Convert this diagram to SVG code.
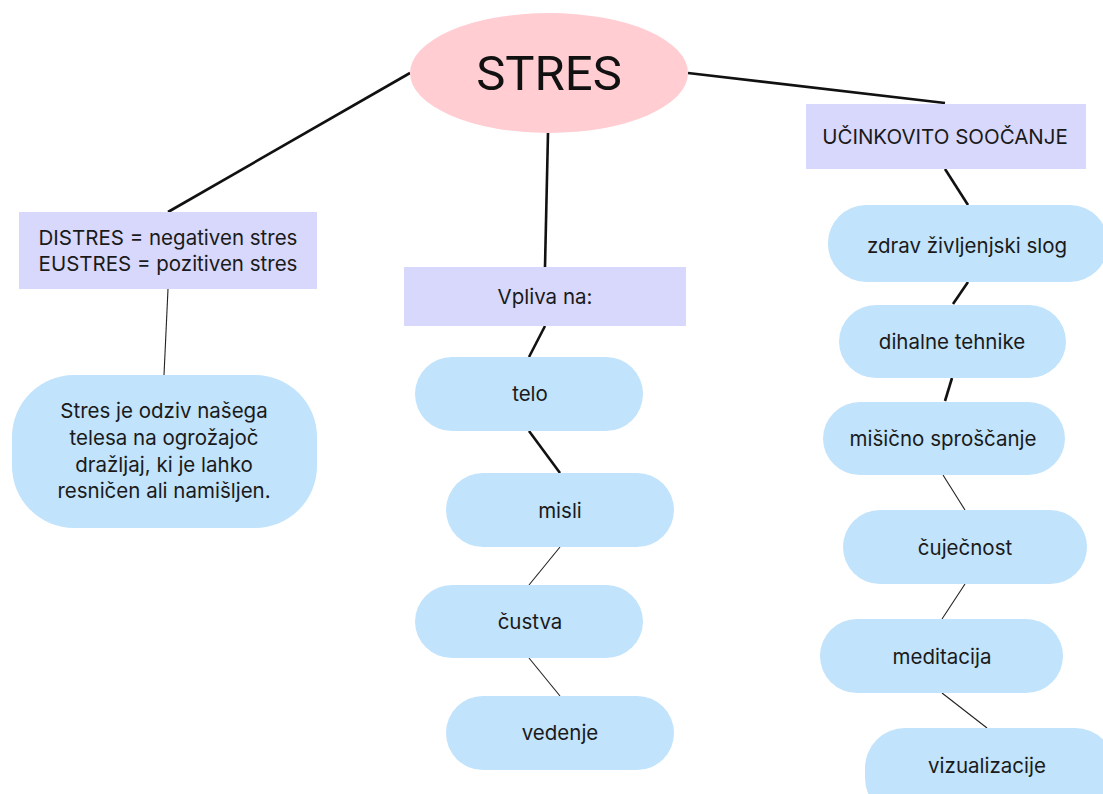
<svg xmlns="http://www.w3.org/2000/svg" width="1103" height="794" viewBox="0 0 1103 794">
<style>
.bg{fill:#ffffff}
.rect{fill:#d8d8fc}
.pill{fill:#c1e3fc}
.t{font-family:Inter,"Noto Sans","Liberation Sans",sans-serif;font-size:20.5px;fill:#1a1a1a;text-anchor:middle}
.thick{stroke:#111;stroke-width:2.6;fill:none}
.thin{stroke:#222;stroke-width:1.1;fill:none}
</style>
<rect class="bg" width="1103" height="794"/>
<g id="connectors">
<line class="thick" x1="410" y1="73" x2="168" y2="212"/>
<line class="thin" x1="168" y1="289" x2="164" y2="375"/>
<line class="thick" x1="548" y1="133" x2="545" y2="267"/>
<line class="thick" x1="545" y1="326" x2="529" y2="357"/>
<line class="thick" x1="529" y1="431" x2="560" y2="473"/>
<line class="thin" x1="560" y1="547" x2="529" y2="585"/>
<line class="thin" x1="529" y1="658" x2="560" y2="696"/>
<line class="thick" x1="688" y1="73" x2="945" y2="103"/>
<line class="thick" x1="945" y1="169" x2="968" y2="205"/>
<line class="thick" x1="968" y1="282" x2="953" y2="304"/>
<line class="thick" x1="952" y1="378" x2="945" y2="401"/>
<line class="thin" x1="943" y1="475" x2="965" y2="510"/>
<line class="thin" x1="965" y1="584" x2="942" y2="619"/>
<line class="thin" x1="942" y1="693" x2="987" y2="728"/>
</g>
<g id="stres">
<ellipse cx="549" cy="73" rx="139" ry="60" fill="#ffcdd2"/>
<text x="549" y="90" font-family="Roboto,'Liberation Sans',sans-serif" font-size="49" fill="#111" text-anchor="middle">STRES</text>
</g>
<g id="distres">
<rect class="rect" x="19" y="212" width="298" height="77"/>
<text class="t" x="168" y="245">DISTRES = negativen stres</text>
<text class="t" x="168" y="271">EUSTRES = pozitiven stres</text>
</g>
<g id="definicija">
<rect class="pill" x="12" y="375" width="305" height="153" rx="62" ry="62"/>
<text class="t" x="164" y="418">Stres je odziv našega</text>
<text class="t" x="164" y="445">telesa na ogrožajoč</text>
<text class="t" x="164" y="472">dražljaj, ki je lahko</text>
<text class="t" x="164" y="498">resničen ali namišljen.</text>
</g>
<g id="vpliva">
<rect class="rect" x="404" y="267" width="282" height="59"/>
<text class="t" x="545" y="304">Vpliva na:</text>
</g>
<g id="telo">
<rect class="pill" x="415" y="357" width="228" height="74" rx="37" ry="37"/>
<text class="t" x="530" y="401">telo</text>
</g>
<g id="misli">
<rect class="pill" x="446" y="473" width="228" height="74" rx="37" ry="37"/>
<text class="t" x="560" y="518">misli</text>
</g>
<g id="custva">
<rect class="pill" x="415" y="585" width="228" height="73" rx="37" ry="37"/>
<text class="t" x="530" y="629">čustva</text>
</g>
<g id="vedenje">
<rect class="pill" x="446" y="696" width="228" height="74" rx="37" ry="37"/>
<text class="t" x="560" y="740">vedenje</text>
</g>
<g id="soocanje">
<rect class="rect" x="806" y="104" width="280" height="65"/>
<text class="t" x="945" y="144">UČINKOVITO SOOČANJE</text>
</g>
<g id="zdrav">
<rect class="pill" x="828" y="205" width="280" height="77" rx="38" ry="38"/>
<text class="t" x="967" y="253">zdrav življenjski slog</text>
</g>
<g id="dihalne">
<rect class="pill" x="839" y="305" width="227" height="73" rx="37" ry="37"/>
<text class="t" x="952" y="349">dihalne tehnike</text>
</g>
<g id="misicno">
<rect class="pill" x="823" y="402" width="242" height="73" rx="37" ry="37"/>
<text class="t" x="943" y="446">mišično sproščanje</text>
</g>
<g id="cujecnost">
<rect class="pill" x="843" y="510" width="244" height="74" rx="37" ry="37"/>
<text class="t" x="965" y="555">čuječnost</text>
</g>
<g id="meditacija">
<rect class="pill" x="820" y="619" width="243" height="74" rx="37" ry="37"/>
<text class="t" x="942" y="664">meditacija</text>
</g>
<g id="vizualizacije">
<rect class="pill" x="865" y="728" width="250" height="90" rx="40" ry="40"/>
<text class="t" x="987" y="773">vizualizacije</text>
</g>
</svg>
